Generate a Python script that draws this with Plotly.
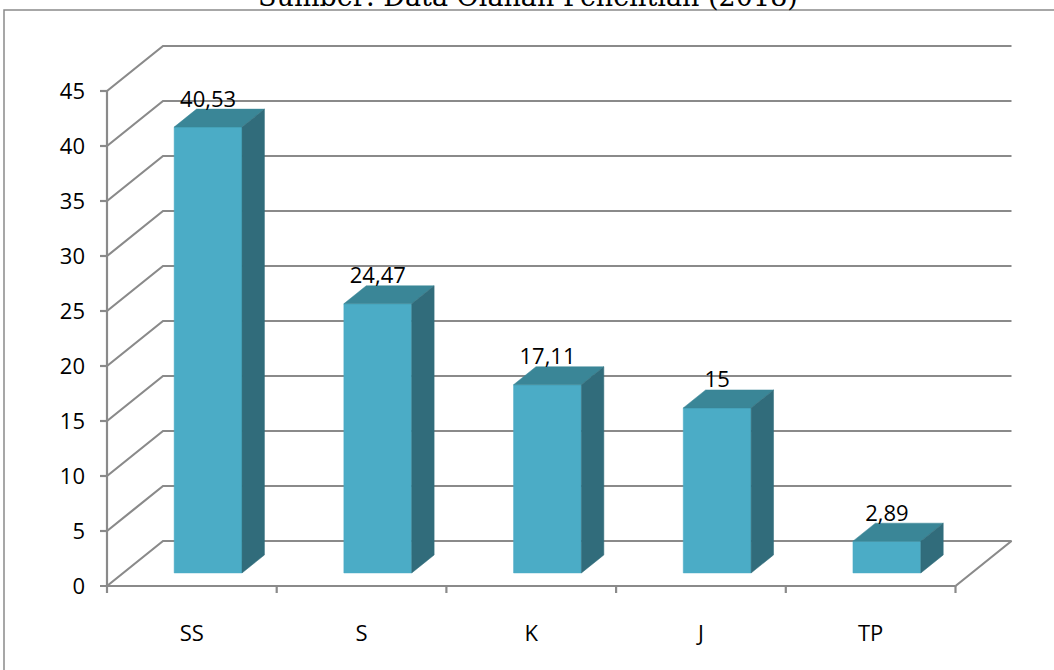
import plotly.graph_objects as go

# ---- data -------------------------------------------------------------
categories = ["SS", "S", "K", "J", "TP"]
values = [40.53, 24.47, 17.11, 15, 2.89]
value_labels = ["40,53", "24,47", "17,11", "15", "2,89"]
y_ticks = [0, 5, 10, 15, 20, 25, 30, 35, 40, 45]
title_text = "Sumber: Data Olahan Penelitian (2018)"

# ---- oblique 3-D projection -------------------------------------------
PX_PER_CAT = 169.7            # pixels per category on the x axis
PX_PER_UNIT = 11.0            # pixels per value unit on the y axis
DX = 56 / PX_PER_CAT          # back-wall shift in category units
DY = 45 / PX_PER_UNIT         # back-wall shift in value units
BAR_Z0, BAR_Z1 = 0.29, 0.69   # depth span of the bars
BAR_X0, BAR_X1 = 0.30, 0.70   # width span of a bar inside its category

FRONT = "#4BACC6"
TOP = "#3A8697"
SIDE = "#316C7B"
GRID = "#8A8A8A"
FONT = "Open Sans"
FONT_SIZE = 22

n = len(categories)
y_top = y_ticks[-1]

# plot-area geometry (pixels)
W, H = 1054, 670
L, R, T, B = 90, 1020, 36, 600
X0_PX, Y0_PX = 107, 586       # pixel of data origin (front-left floor corner)

fig = go.Figure()

# back wall gridlines with their oblique side-wall segments
gx, gy = [], []
for v in y_ticks[1:]:
    gx += [0, DX, n + DX, None]
    gy += [v, v + DY, v + DY, None]
# floor outline
gx += [0, DX, n + DX, n, None]
gy += [0, DY, DY, 0, None]
# front axes
gx += [-7 / PX_PER_CAT, n, None, 0, 0, None]
gy += [0, 0, None, 0, y_top, None]
# y tick marks
for v in y_ticks[1:]:
    gx += [-7 / PX_PER_CAT, 0, None]
    gy += [v, v, None]
# x tick marks at category boundaries
for i in range(n + 1):
    gx += [i, i, None]
    gy += [0, -7 / PX_PER_UNIT, None]

fig.add_trace(go.Scatter(x=gx, y=gy, mode="lines",
                         line=dict(color=GRID, width=2.2),
                         hoverinfo="skip", showlegend=False))

# bars as three visible faces
ax, ay = BAR_Z0 * DX, BAR_Z0 * DY
bx, by = BAR_Z1 * DX, BAR_Z1 * DY
for i, v in enumerate(values):
    x0, x1 = i + BAR_X0, i + BAR_X1
    faces = [
        (FRONT, [x0 + ax, x1 + ax, x1 + ax, x0 + ax, x0 + ax],
                [ay, ay, v + ay, v + ay, ay]),
        (TOP, [x0 + ax, x1 + ax, x1 + bx, x0 + bx, x0 + ax],
              [v + ay, v + ay, v + by, v + by, v + ay]),
        (SIDE, [x1 + ax, x1 + bx, x1 + bx, x1 + ax, x1 + ax],
               [ay, by, v + by, v + ay, ay]),
    ]
    for color, fx, fy in faces:
        fig.add_trace(go.Scatter(x=fx, y=fy, mode="lines", fill="toself",
                                 fillcolor=color,
                                 line=dict(color=color, width=0.5),
                                 hoverinfo="skip", showlegend=False))

# value labels resting on the back edge of each bar top
fig.add_trace(go.Scatter(
    x=[i + 0.5 + ax for i in range(n)],
    y=[v + by - 3 / PX_PER_UNIT for v in values],
    text=value_labels, mode="text", textposition="top center",
    textfont=dict(family=FONT, size=FONT_SIZE, color="#000000"),
    hoverinfo="skip", showlegend=False, cliponaxis=False))

pw, ph = R - L, B - T


def paper_x(px):
    return (px - L) / pw


def paper_y(py):
    return (B - py) / ph


fig.update_layout(
    width=W, height=H,
    margin=dict(l=L, r=W - R, t=T, b=H - B),
    paper_bgcolor="white", plot_bgcolor="white",
    xaxis=dict(range=[(L - X0_PX) / PX_PER_CAT, (R - X0_PX) / PX_PER_CAT],
               tickvals=[i + 0.5 for i in range(n)], ticktext=categories,
               showgrid=False, zeroline=False, showline=False, ticks="",
               ticklabelstandoff=18,
               tickfont=dict(family=FONT, size=FONT_SIZE, color="#000000")),
    yaxis=dict(range=[(Y0_PX - B) / PX_PER_UNIT, (Y0_PX - T) / PX_PER_UNIT],
               tickvals=y_ticks, ticktext=[str(t) for t in y_ticks],
               showgrid=False, zeroline=False, showline=False, ticks="",
               ticklabelstandoff=4,
               tickfont=dict(family=FONT, size=FONT_SIZE, color="#000000")),
    shapes=[dict(type="rect", xref="paper", yref="paper",
                 x0=paper_x(4), x1=paper_x(W + 20),
                 y0=paper_y(H + 20), y1=paper_y(10),
                 line=dict(color="#8A8A8A", width=1.5), layer="below")],
    annotations=[dict(text=title_text, xref="paper", yref="paper",
                      x=paper_x(528), y=paper_y(14),
                      xanchor="center", yanchor="bottom", showarrow=False,
                      font=dict(family="DejaVu Serif", size=27,
                                color="#000000"))],
)

fig.write_html("out.html")
